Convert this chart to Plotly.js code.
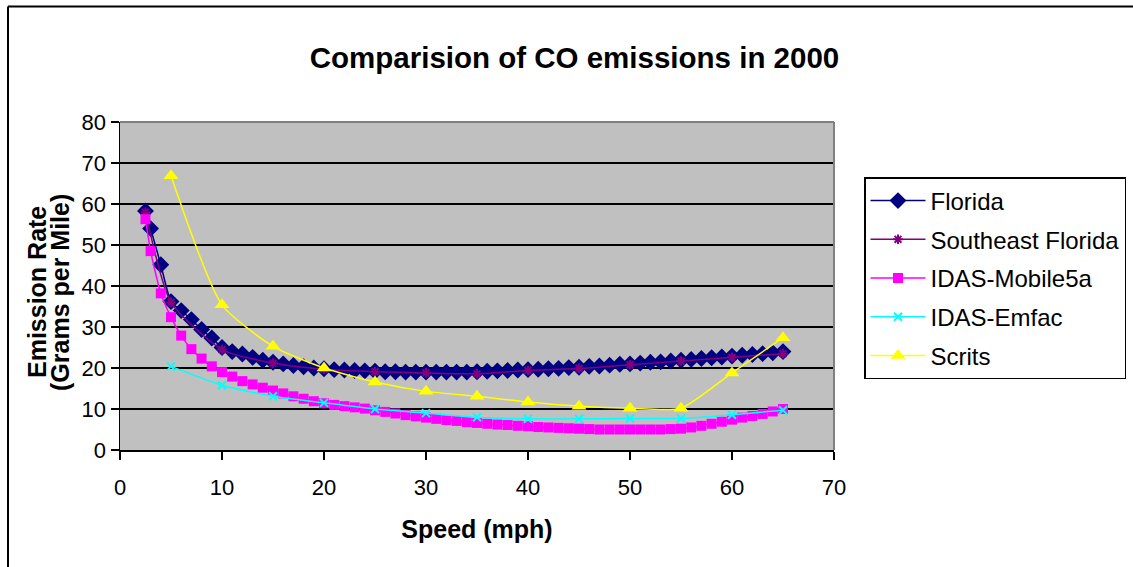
<!DOCTYPE html>
<html>
<head>
<meta charset="utf-8">
<script src="https://cdn.plot.ly/plotly-3.0.1.min.js"></script>
<style>html,body{margin:0;padding:0;background:#fff;}#chart{width:1133px;height:567px;}</style>
</head>
<body>
<div id="chart"></div>
<script>
// ---- data ----
const floridaX = [2.5,3,4,5,6,7,8,9,10,11,12,13,14,15,16,17,18,19,20,21,22,23,24,25,26,27,28,29,30,31,32,33,34,35,36,37,38,39,40,41,42,43,44,45,46,47,48,49,50,51,52,53,54,55,56,57,58,59,60,61,62,63,64,65];
const floridaY = [58.3,54,45.2,36.2,34,31.8,29.4,27.3,25,24,23.4,22.6,21.9,21.4,21,20.6,20.3,20,19.8,19.6,19.5,19.4,19.3,19.2,19.1,19.1,19.0,19.0,19.0,19.0,19.0,19.0,19.0,19.1,19.2,19.3,19.4,19.5,19.6,19.7,19.8,19.9,20.1,20.2,20.4,20.5,20.7,20.9,21.0,21.2,21.4,21.5,21.7,21.9,22.1,22.3,22.5,22.7,22.9,23.1,23.3,23.5,23.7,24.0];

const seFloridaX = [2.5,5,10,15,20,25,30,35,40,45,50,55,60,65];
const seFloridaY = [58,36,24.5,21.2,19.7,19.1,18.8,18.6,19.4,19.9,20.8,21.7,22.6,23.5];

const mobileX = [2.5,3,4,5,6,7,8,9,10,11,12,13,14,15,16,17,18,19,20,21,22,23,24,25,26,27,28,29,30,31,32,33,34,35,36,37,38,39,40,41,42,43,44,45,46,47,48,49,50,51,52,53,54,55,56,57,58,59,60,61,62,63,64,65];
const mobileY = [56.3,48.5,38.2,32.4,27.9,24.6,22.3,20.4,19,17.9,16.8,16,15.2,14.5,13.8,13.1,12.5,11.9,11.4,11.0,10.7,10.4,10.1,9.7,9.3,8.9,8.5,8.2,7.9,7.6,7.3,7.1,6.8,6.6,6.4,6.2,6.1,5.9,5.8,5.6,5.5,5.4,5.3,5.2,5.1,5.0,5.0,5.0,5.0,5.0,5.0,5.0,5.1,5.2,5.5,5.9,6.4,6.9,7.4,7.9,8.3,8.8,9.4,10.0];

const emfacX = [5,10,15,20,25,30,35,40,45,50,55,60,65];
const emfacY = [20.4,15.8,13.1,11.5,10.0,9.0,8.0,7.6,7.6,7.7,7.7,8.6,9.7];

const scritsX = [5,10,15,20,25,30,35,40,45,50,55,60,65];
const scritsY = [66.9,35.4,25.3,20.0,16.6,14.3,13.1,11.7,10.7,10.2,10.2,18.8,27.4];

const seriesNames = ['Florida','Southeast Florida','IDAS-Mobile5a','IDAS-Emfac','Scrits'];
const titleText = 'Comparision of CO emissions in 2000';
const xTitle = 'Speed (mph)';
const yTitle1 = 'Emission Rate';
const yTitle2 = '(Grams per Mile)';

// ---- chart ----
const FONT = 'Liberation Sans, Arial, sans-serif';
function tr(x, y, name, color, symbol, size, lw, mline) {
  return {
    type: 'scatter', mode: 'lines+markers', x: x, y: y, name: name,
    legendgroup: name,
    line: {color: color, width: lw, shape: 'spline', smoothing: 0.6},
    marker: {color: color, symbol: symbol, size: size, line: mline || {width: 0}},
    cliponaxis: false
  };
}
const traces = [
  tr(floridaX, floridaY, seriesNames[0], '#000080', 'diamond', 13, 1.5),
  tr(seFloridaX, seFloridaY, seriesNames[1], '#800080', 'asterisk-open', 8, 1.5, {color:'#800080', width:2}),
  tr(mobileX, mobileY, seriesNames[2], '#FF00FF', 'square', 10, 1.5),
  tr(emfacX, emfacY, seriesNames[3], '#00FFFF', 'x-thin-open', 8, 1.5, {color:'#00FFFF', width:2}),
  tr(scritsX, scritsY, seriesNames[4], '#FFFF00', 'triangle-up', 13, 1.5)
];

const L = 120, R = 834, T = 122, B = 450;
const W = R - L, H = B - T;
const px = v => (v - L) / W;
const py = v => (B - v) / H;

const layout = {
  width: 1133, height: 567,
  margin: {l: L, r: 1133 - R, t: T, b: 567 - B, pad: 0},
  paper_bgcolor: '#ffffff',
  plot_bgcolor: '#C0C0C0',
  font: {family: FONT, color: '#000', size: 22},
  title: {text: '<b>' + titleText + '</b>', font: {family: FONT, size: 29.5, color: '#000'},
          x: 574.5 / 1133, xref: 'container', xanchor: 'center',
          y: 1 - 58 / 567, yref: 'container', yanchor: 'middle'},
  xaxis: {range: [0, 70], dtick: 10, tick0: 0, showgrid: false, zeroline: false,
          showline: true, linecolor: '#000', linewidth: 1.5,
          ticks: 'outside', ticklen: 8, tickwidth: 1.5, tickcolor: '#000',
          ticklabelstandoff: 9,
          tickfont: {family: FONT, size: 22, color: '#000'},
          title: {text: '<b>' + xTitle + '</b>', font: {family: FONT, size: 25, color: '#000'}, standoff: 21}},
  yaxis: {range: [0, 80], dtick: 10, tick0: 0, showgrid: true, gridcolor: '#000', gridwidth: 1.5,
          zeroline: false, showline: true, linecolor: '#000', linewidth: 1.5,
          ticks: 'outside', ticklen: 8, tickwidth: 1.5, tickcolor: '#000',
          tickfont: {family: FONT, size: 22, color: '#000'}},
  legend: {x: 864 / 1133, xref: 'container', xanchor: 'left',
           y: 1 - 177 / 567, yref: 'container', yanchor: 'top',
           bgcolor: '#fff', bordercolor: '#000', borderwidth: 1.5,
           font: {family: FONT, size: 24, color: '#000'},
           itemwidth: 55, tracegroupgap: 4.5, traceorder: 'grouped'},
  showlegend: true,
  annotations: [
    {text: '<b>' + yTitle1 + '</b>', xref: 'paper', yref: 'paper', x: px(37), y: py(292),
     xanchor: 'center', yanchor: 'middle', textangle: -90, showarrow: false,
     font: {family: FONT, size: 25, color: '#000'}},
    {text: '<b>' + yTitle2 + '</b>', xref: 'paper', yref: 'paper', x: px(60), y: py(292),
     xanchor: 'center', yanchor: 'middle', textangle: -90, showarrow: false,
     font: {family: FONT, size: 25, color: '#000'}}
  ],
  shapes: [
    {type: 'line', xref: 'paper', yref: 'paper', x0: 0, x1: 1, y0: 1, y1: 1, line: {color: '#808080', width: 2}},
    {type: 'line', xref: 'paper', yref: 'paper', x0: 1, x1: 1, y0: 0, y1: 1, line: {color: '#808080', width: 2}},
    {type: 'line', xref: 'paper', yref: 'paper', x0: px(8), x1: px(8), y0: py(600), y1: py(6.5), line: {color: '#000', width: 2}},
    {type: 'line', xref: 'paper', yref: 'paper', x0: px(8), x1: px(1200), y0: py(6.5), y1: py(6.5), line: {color: '#000', width: 2}}
  ]
};

Plotly.newPlot('chart', traces, layout, {displayModeBar: false, staticPlot: true});
</script>
</body>
</html>
